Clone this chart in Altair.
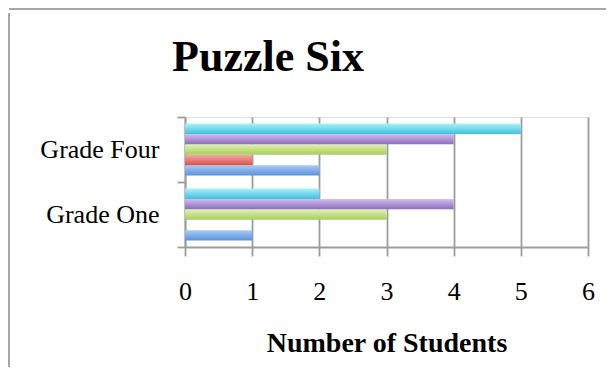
import altair as alt
import pandas as pd

# ---- data ----
categories = ["Grade One", "Grade Four"]
series = ["Series 1", "Series 2", "Series 3", "Series 4", "Series 5"]
s1_blue = [1, 2]
s2_red = [0, 1]
s3_green = [3, 3]
s4_purple = [4, 4]
s5_cyan = [2, 5]
x_ticks = [0, 1, 2, 3, 4, 5, 6]
chart_title = "Puzzle Six"

grade_order = ["Grade Four", "Grade One"]
offset_order = ["Series 5", "Series 4", "Series 3", "Series 2", "Series 1"]
colors_top = ["#a9cbf5", "#f6a8a4", "#e2f2b4", "#d2bfee", "#abf1fc"]
colors_bottom = ["#5a92dc", "#d9534f", "#a6ce5a", "#8d6cbe", "#43c0dc"]

rows = []
for name, vals in zip(series, [s1_blue, s2_red, s3_green, s4_purple, s5_cyan]):
    for c, v in zip(categories, vals):
        rows.append({"grade": c, "series": name, "students": v})
df = pd.DataFrame(rows)

GRID = "#9c9c9c"
FONT = "Liberation Serif"

x_axis = alt.Axis(
    values=x_ticks, grid=True, gridColor=GRID, gridWidth=1.8, labelFlush=False,
    domainColor=GRID, domainWidth=1.8, tickColor=GRID, tickWidth=1.8, tickSize=9,
    labelFont=FONT, labelFontSize=26, labelColor="black", labelPadding=22,
    title="Number of Students", titleFont=FONT, titleFontSize=28,
    titleFontWeight="bold", titleColor="black", titlePadding=25,
)
y_axis = alt.Axis(
    title=None, grid=False, domainColor=GRID, domainWidth=1.8,
    tickColor=GRID, tickWidth=1.8, tickSize=8, tickBand="extent",
    labelFont=FONT, labelFontSize=26, labelColor="black", labelPadding=18,
)

base = alt.Chart(df)
layers = []
for name, top, bot in zip(series, colors_top, colors_bottom):
    grad = alt.LinearGradient(
        gradient="linear",
        stops=[alt.GradientStop(color=top, offset=0), alt.GradientStop(color=bot, offset=1)],
        x1=0, x2=0, y1=0, y2=1,
    )
    layers.append(
        base.transform_filter(alt.datum.series == name)
        .mark_bar(color=grad)
        .encode(
            x=alt.X("students:Q", scale=alt.Scale(domain=[0, 6], nice=False), axis=x_axis),
            y=alt.Y("grade:N", sort=grade_order,
                    scale=alt.Scale(paddingInner=0, paddingOuter=0), axis=y_axis),
            yOffset=alt.YOffset("series:N",
                                scale=alt.Scale(domain=offset_order, paddingInner=0, paddingOuter=0.62)),
        )
    )

single = alt.Chart(pd.DataFrame({"label": [chart_title]}))
frame_top = single.mark_rule(color="#a6a6a6", strokeWidth=2).encode(
    x=alt.value(-176), x2=alt.value(430), y=alt.value(-108))
frame_left = single.mark_rule(color="#a6a6a6", strokeWidth=2).encode(
    x=alt.value(-176), y=alt.value(-104), y2=alt.value(270))
title_text = single.mark_text(
    font=FONT, fontSize=44, fontWeight="bold", color="black",
    align="center", baseline="alphabetic",
).encode(text="label:N", x=alt.value(83), y=alt.value(-46))

chart = alt.layer(*layers, frame_top, frame_left, title_text).properties(
    width=403, height=130,
    autosize=alt.AutoSizeParams(type="none"),
    padding={"left": 177, "top": 109, "right": 18, "bottom": 120},
).configure_view(stroke=None).configure(background="white")

chart.save("out.html", embed_options={"renderer": "svg", "actions": False})
